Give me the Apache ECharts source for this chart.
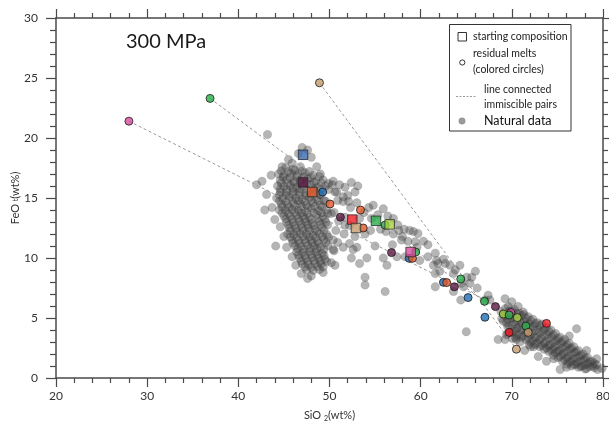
<!DOCTYPE html>
<html><head><meta charset="utf-8">
<script src="https://cdn.jsdelivr.net/npm/echarts@6/dist/echarts.min.js"></script>
<style>html,body{margin:0;padding:0;background:#fff}#c{width:609px;height:423px}</style>
</head><body><div id="c"></div>
<script>
// ---------------- DATA ----------------
const xRange = [20, 80];
const yRange = [0, 30];
const xStep = 10;
const yStep = 5;
const pressureLabel = '300 MPa';

// starting compositions (squares)
const startGroup = ['blue','purple','orange','red','tan','green','lime','magenta'];
const startSiO2  = [47.1, 47.1, 48.1, 52.5, 52.9, 55.1, 56.6, 58.9];
const startFeO   = [18.6, 16.3, 15.5, 13.2, 12.5, 13.1, 12.8, 10.5];

// residual melts (colored circles)
const meltGroup = ['magenta','green','tan','blue','orange','purple','orange','orange','green','purple',
  'blue','orange','green','blue','orange','purple','green','blue','green','blue',
  'purple','lime','magenta','green','lime','red','tan','green','tan','red'];
const meltSiO2 = [28.0, 36.9, 48.9, 49.25, 50.05, 51.2, 53.4, 53.7, 56.1, 56.8,
  58.75, 59.1, 59.45, 62.5, 62.85, 63.7, 64.4, 65.2, 67.0, 67.05,
  68.2, 69.07, 69.9, 69.7, 70.6, 69.7, 70.5, 71.55, 71.8, 73.8];
const meltFeO = [21.4, 23.3, 24.6, 15.5, 14.5, 13.4, 14.0, 12.5, 12.75, 10.45,
  9.97, 9.97, 10.5, 7.97, 7.95, 7.6, 8.25, 6.7, 6.39, 5.06,
  5.95, 5.33, 5.45, 5.25, 5.03, 3.8, 2.4, 4.33, 3.8, 4.55];

// immiscible pairs (dashed lines)
const pairSiO2 = [[28.0, 69.9], [36.9, 67.0], [48.9, 70.5]];
const pairFeO  = [[21.4, 5.45], [23.3, 6.39], [24.6, 2.4]];

// natural data
const naturalMafic = [
[45.2,17.55],[46.0,17.4],[46.8,17.6],
[44.4,17.0],[45.0,16.9],[45.8,17.05],[46.5,16.95],[47.3,17.1],[48.2,16.9],
[44.6,16.45],[45.3,16.55],[46.1,16.4],[46.8,16.5],[47.6,16.6],[48.5,16.4],[49.3,16.5],
[44.3,16.0],[45.0,15.95],[45.7,16.05],[46.4,15.9],[47.1,16.0],[47.9,16.1],[48.7,15.9],[49.6,16.0],[50.3,16.1],
[44.6,15.5],[45.3,15.45],[46.0,15.55],[46.7,15.5],[47.4,15.4],[48.3,15.6],[49.0,15.3],
[44.2,15.0],[44.9,14.95],[45.6,15.05],[46.3,15.0],[47.0,14.9],[47.8,15.05],[48.6,14.95],[49.4,14.8],
[44.7,14.5],[45.4,14.45],[46.1,14.55],[46.8,14.5],[47.5,14.4],[48.2,14.6],[49.0,14.4],
[44.5,14.0],[45.2,13.95],[45.9,14.05],[46.6,14.0],[47.3,13.9],[48.0,14.1],[48.8,13.95],[49.7,14.0],
[45.0,13.5],[45.7,13.45],[46.4,13.55],[47.1,13.5],[47.8,13.4],[48.6,13.6],[49.3,13.45],
[45.3,13.0],[46.0,12.95],[46.7,13.05],[47.4,13.0],[48.1,12.9],[48.9,13.05],[49.6,12.95],
[45.6,12.5],[46.3,12.45],[47.0,12.55],[47.7,12.5],[48.4,12.4],[49.2,12.55],
[45.4,12.0],[46.1,11.95],[46.8,12.05],[47.5,12.0],[48.2,11.9],[48.9,12.05],[49.7,11.95],
[45.9,11.5],[46.6,11.45],[47.3,11.55],[48.0,11.5],[48.7,11.4],[49.4,11.55],
[46.2,11.0],[46.9,10.95],[47.6,11.05],[48.3,11.0],[49.0,10.9],[49.8,11.05],
[46.4,10.5],[47.1,10.45],[47.8,10.55],[48.5,10.5],[49.2,10.4],
[46.7,10.0],[47.4,9.95],[48.1,10.05],[48.8,10.0],[49.5,9.9],
[47.0,9.5],[47.7,9.45],[48.4,9.55],[49.1,9.5],
[47.5,9.0],[48.2,8.95],[48.9,9.05],
[44.7,17.25],[45.5,17.2],[46.2,17.3],[47.0,17.25],[47.8,17.2],
[44.9,16.75],[45.7,16.7],[46.4,16.8],[47.2,16.75],[48.0,16.7],[48.9,16.8],
[44.7,16.25],[45.4,16.2],[46.1,16.3],[46.8,16.25],[47.5,16.2],[48.3,16.3],[49.1,16.25],[49.9,16.2],
[44.6,15.75],[45.3,15.7],[46.0,15.8],[46.7,15.75],[47.5,15.7],[48.3,15.8],[49.1,15.75],[49.9,15.7],
[44.5,15.25],[45.2,15.2],[46.0,15.3],[46.7,15.25],[47.4,15.2],[48.2,15.3],[49.0,15.25],
[44.5,14.75],[45.2,14.7],[45.9,14.8],[46.6,14.75],[47.3,14.7],[48.0,14.8],[48.8,14.75],[49.6,14.7],
[44.8,14.25],[45.5,14.2],[46.2,14.3],[46.9,14.25],[47.6,14.2],[48.4,14.3],[49.2,14.25],
[44.8,13.75],[45.5,13.7],[46.2,13.8],[46.9,13.75],[47.6,13.7],[48.3,13.8],[49.1,13.75],[49.8,13.7],
[45.2,13.25],[45.9,13.2],[46.6,13.3],[47.3,13.25],[48.0,13.2],[48.8,13.3],[49.5,13.25],
[45.5,12.75],[46.2,12.7],[46.9,12.8],[47.6,12.75],[48.3,12.7],[49.0,12.8],[49.8,12.75],
[45.7,12.25],[46.4,12.2],[47.1,12.3],[47.8,12.25],[48.6,12.2],[49.4,12.3],
[45.7,11.75],[46.4,11.7],[47.1,11.8],[47.8,11.75],[48.5,11.7],[49.2,11.8],[49.9,11.75],
[46.0,11.25],[46.7,11.2],[47.4,11.3],[48.1,11.25],[48.8,11.2],[49.6,11.3],
[46.5,10.75],[47.2,10.7],[47.9,10.8],[48.6,10.75],[49.4,10.7],
[46.6,10.25],[47.3,10.2],[48.0,10.3],[48.7,10.25],[49.4,10.2],
[46.9,9.75],[47.6,9.7],[48.3,9.8],[49.0,9.75],[49.7,9.7],
[47.3,9.25],[48.0,9.2],[48.7,9.3],[49.3,9.25],
[43.2,20.3],[47.0,19.2],[47.6,19.0],[46.6,18.7],[48.0,18.4],[45.5,18.2],[45.9,17.9],[44.8,17.6],
[43.6,16.9],[42.6,16.4],[42.0,16.1],[43.1,15.3],[42.9,14.0],[43.7,14.2],[44.0,13.2],[44.6,12.6],
[45.0,11.8],[45.3,10.9],[45.9,10.1],[46.3,9.4],[46.9,8.7],[48.0,8.5],[49.3,8.8],[50.2,9.6],
[50.5,10.6],[50.9,11.3],[50.7,12.3],[51.0,13.1],[50.5,13.8],[50.9,14.8],[49.0,17.0],[48.6,17.6],
[50.6,15.5],[44.1,11.0],[47.6,8.3]
];
const naturalIntermediate = [
[50.4,16.4],[51.1,16.1],[51.7,15.9],[52.4,16.3],[53.1,16.0],[52.0,15.2],[52.8,15.5],[51.5,14.7],
[52.3,14.2],[53.0,14.6],[53.8,13.8],[54.3,14.2],[54.8,14.4],[55.9,14.1],[54.6,13.3],[55.3,13.6],
[56.4,13.5],[57.0,13.3],[57.5,12.75],[57.6,12.3],[58.2,12.4],[58.8,12.3],[59.2,12.2],[59.7,12.05],
[57.9,11.5],[58.6,11.4],[59.4,11.35],[60.3,11.4],[60.8,11.1],[58.0,11.8],[57.0,12.0],[56.2,12.2],
[55.6,12.4],[54.5,12.3],[53.9,12.0],[52.8,11.8],[51.6,12.0],[52.2,12.7],[51.7,13.4],[53.3,13.3],
[50.8,15.5],[51.5,15.1],[52.1,14.7],[50.2,13.7],[51.7,12.75],[50.4,11.5],[52.2,11.2],[53.0,10.9],
[50.4,10.7],[51.5,10.9],[52.6,10.7],[52.4,10.0],[53.3,9.55],[54.1,10.0],[55.9,10.0],[56.3,9.4],
[57.4,10.1],[58.3,10.1],[59.6,10.9],[59.9,9.8],[60.8,10.1],[61.4,9.4],[61.75,9.8],[50.6,9.4],
[53.9,8.4],[53.9,7.75],[56.1,7.2],[61.6,7.6],[55.0,11.0],[56.9,11.1]
];
const naturalTransition = [
[61.6,10.4],[61.9,9.55],[62.7,9.55],[63.2,9.4],[64.3,9.4],[63.8,9.0],[61.6,8.7],[62.1,8.9],
[63.6,8.7],[65.05,8.4],[65.6,8.4],[64.5,7.9],[64.7,7.6],[65.4,7.9],[63.6,7.2],[67.4,6.9],
[67.05,6.5],[67.6,6.5],[64.4,6.5],[66.2,7.5],[65.0,3.86],[68.5,3.2],[69.25,6.6],[70.0,6.35],
[70.7,5.95],[71.25,5.5],[69.6,5.95],[62.5,9.9],[66.0,8.9]
];
const naturalFelsic = [
[68.8,5.55],[68.9,4.95],
[69.3,5.8],[69.2,5.2],[69.4,4.6],
[69.8,5.6],[69.9,5.0],[69.7,4.4],[69.8,3.8],
[70.3,5.7],[70.2,5.1],[70.4,4.5],[70.3,3.9],[70.4,3.35],
[70.8,5.4],[70.9,4.8],[70.7,4.2],[70.8,3.6],[70.9,3.0],
[71.3,5.3],[71.4,4.7],[71.2,4.1],[71.3,3.5],
[71.8,5.1],[71.9,4.5],[71.7,3.9],[71.8,3.3],[71.9,2.8],
[72.3,4.9],[72.4,4.3],[72.2,3.7],[72.3,3.1],[72.4,2.6],
[72.8,4.6],[72.9,4.0],[72.7,3.4],[72.8,2.9],
[73.3,4.5],[73.4,3.9],[73.2,3.3],[73.3,2.7],
[73.8,4.2],[73.9,3.6],[73.7,3.0],[73.8,2.5],
[74.3,4.0],[74.4,3.4],[74.2,2.8],[74.3,2.3],
[74.8,3.7],[74.9,3.1],[74.7,2.6],[74.8,2.1],
[75.3,3.4],[75.4,2.9],[75.2,2.3],[75.3,1.8],
[75.8,3.2],[75.9,2.6],[75.7,2.1],[75.8,1.5],
[76.3,2.9],[76.4,2.4],[76.2,1.8],[76.3,1.3],
[76.8,2.6],[76.9,2.1],[76.7,1.6],[76.8,1.1],
[77.3,2.3],[77.4,1.8],[77.2,1.3],[77.3,0.9],
[77.8,2.0],[77.9,1.5],[77.7,1.0],
[78.3,1.7],[78.4,1.2],[78.2,0.8],
[78.8,1.4],[78.9,1.0],
[79.3,1.1],[79.4,0.7],
[69.05,5.35],[69.05,4.75],
[69.55,5.5],[69.55,4.9],[69.55,4.3],[69.55,3.7],
[70.05,5.6],[70.05,5.0],[70.05,4.4],[70.05,3.8],[70.05,3.3],
[70.55,5.35],[70.55,4.75],[70.55,4.15],[70.55,3.55],
[71.05,5.2],[71.05,4.6],[71.05,4.0],[71.05,3.4],
[71.55,5.0],[71.55,4.4],[71.55,3.8],[71.55,3.2],
[72.05,4.8],[72.05,4.2],[72.05,3.6],[72.05,3.0],[72.05,2.6],
[72.55,4.55],[72.55,3.95],[72.55,3.35],[72.55,2.8],
[73.05,4.4],[73.05,3.8],[73.05,3.2],[73.05,2.6],
[73.55,4.1],[73.55,3.5],[73.55,2.9],[73.55,2.4],
[74.05,3.9],[74.05,3.3],[74.05,2.7],[74.05,2.2],
[74.55,3.6],[74.55,3.0],[74.55,2.4],[74.55,1.9],
[75.05,3.3],[75.05,2.75],[75.05,2.2],[75.05,1.7],
[75.55,3.05],[75.55,2.5],[75.55,1.95],[75.55,1.4],
[76.05,2.8],[76.05,2.2],[76.05,1.65],[76.05,1.15],
[76.55,2.5],[76.55,1.95],[76.55,1.4],[76.55,1.0],
[77.05,2.2],[77.05,1.65],[77.05,1.15],
[77.55,1.9],[77.55,1.4],[77.55,0.95],
[78.05,1.65],[78.05,1.1],[78.05,0.75],
[78.55,1.35],[78.55,0.95],
[79.05,1.2],[79.05,0.85],
[77.1,4.1],[76.3,3.5],[75.3,0.7],[79.3,1.6],[79.9,0.8],[72.9,1.8],[71.4,2.3],[73.8,1.4],
[69.25,3.2],[69.4,3.6],[70.5,3.2],[74.6,1.6],[78.2,2.3],[76.0,0.9]
];

// ---------------- STYLE ----------------
const groupColor = {blue:'#1f6db4', purple:'#5c1745', orange:'#e2582a', red:'#ec1c24',
  tan:'#c49b6e', green:'#2aae4a', lime:'#a6cf3f', magenta:'#d84c9f'};
const squareColor = Object.assign({}, groupColor, {blue:'#3a68b2'});
const FONT = 'Lato, "Open Sans", sans-serif';
const axisColor = '#4a4a4a';

const natural = naturalMafic.concat(naturalIntermediate, naturalTransition, naturalFelsic);
const meltData = meltSiO2.map((x, i) => ({value: [x, meltFeO[i]], itemStyle: {color: groupColor[meltGroup[i]]}}));
const startData = startSiO2.map((x, i) => ({value: [x, startFeO[i]], itemStyle: {color: squareColor[startGroup[i]]}}));

const lineSeries = pairSiO2.map((xs, i) => ({
  type: 'line', data: xs.map((x, j) => [x, pairFeO[i][j]]), symbol: 'none', silent: true,
  lineStyle: {color: '#9a9a9a', width: 1, type: [3, 2.5]}, z: 3, animation: false
}));

function mkAxis(extra) {
  return Object.assign({
    type: 'value', splitLine: {show: false}, minorSplitLine: {show: false},
    axisLine: {show: true, onZero: false, lineStyle: {color: axisColor, width: 1.5}},
    axisTick: {show: true, length: 9, lineStyle: {color: axisColor, width: 1.2}},
    minorTick: {show: true, splitNumber: 5, length: 5, lineStyle: {color: axisColor, width: 1.2}},
    axisLabel: {show: true, color: '#333', fontSize: 12, fontFamily: FONT}
  }, extra);
}

const chart = echarts.init(document.getElementById('c'), null, {renderer: 'canvas'});
chart.setOption({
  animation: false,
  grid: {left: 56, top: 18, right: 6, bottom: 45, containLabel: false, outerBoundsMode: 'none'},
  xAxis: [
    mkAxis({min: xRange[0], max: xRange[1], interval: xStep, position: 'bottom',
      axisLabel: {show: true, color: '#333', fontSize: 12, fontFamily: FONT, margin: 12},
      name: 'SiO {sub|2}(wt%)', nameLocation: 'middle', nameGap: 31, nameMoveOverlap: false,
      nameTextStyle: {color: '#333', fontSize: 11, fontFamily: FONT,
        rich: {sub: {fontSize: 7, verticalAlign: 'bottom', padding: [6, 0, 0, 0], fontFamily: FONT, color: '#333'}}}}),
    mkAxis({min: xRange[0], max: xRange[1], interval: xStep, position: 'top', axisLabel: {show: false}})
  ],
  yAxis: [
    mkAxis({min: yRange[0], max: yRange[1], interval: yStep, position: 'left',
      axisLabel: {show: true, color: '#333', fontSize: 12, fontFamily: FONT, margin: 18},
      axisTick: {show: true, length: 10, lineStyle: {color: axisColor, width: 1.2}},
      minorTick: {show: true, splitNumber: 5, length: 6, lineStyle: {color: axisColor, width: 1.2}},
      name: 'FeO {sub|t}(wt%)', nameLocation: 'middle', nameGap: 35, nameRotate: 90, nameMoveOverlap: false,
      nameTextStyle: {color: '#333', fontSize: 11, fontFamily: FONT,
        rich: {sub: {fontSize: 7, fontFamily: FONT, color: '#333'}}}}),
    mkAxis({min: yRange[0], max: yRange[1], interval: yStep, position: 'right', axisLabel: {show: false}})
  ],
  series: [
    {type: 'scatter', data: natural, symbol: 'circle', symbolSize: 8.5, z: 2, silent: true,
      itemStyle: {color: 'rgba(62,62,62,0.48)', borderColor: 'rgba(60,60,60,0.25)', borderWidth: 0.6}},
    ...lineSeries,
    {type: 'scatter', data: meltData, symbol: 'circle', symbolSize: 8, z: 4, silent: true,
      itemStyle: {borderColor: '#1a1a1a', borderWidth: 1}},
    {type: 'scatter', data: startData, symbol: 'rect', symbolSize: 9.5, z: 5, silent: true,
      itemStyle: {borderColor: '#2a2a2a', borderWidth: 1}}
  ],
  graphic: [
    {type: 'text', left: 126, top: 32, z: 10,
      style: {text: pressureLabel, font: '20px ' + FONT, fill: '#1a1a1a'}},
    {type: 'rect', shape: {x: 449.5, y: 24.5, width: 121.5, height: 106.5}, z: 10,
      style: {fill: '#fff', stroke: '#333', lineWidth: 1}},
    {type: 'rect', shape: {x: 458, y: 32.5, width: 8.5, height: 8.5}, z: 11,
      style: {fill: '#fff', stroke: '#333', lineWidth: 1}},
    {type: 'text', x: 473, y: 37, z: 11,
      style: {text: 'starting composition', font: '10.5px ' + FONT, fill: '#222', textVerticalAlign: 'middle'}},
    {type: 'circle', shape: {cx: 462.3, cy: 62.5, r: 2.6}, z: 11,
      style: {fill: '#fff', stroke: '#333', lineWidth: 1}},
    {type: 'text', x: 473, y: 53.5, z: 11,
      style: {text: 'residual melts', font: '10.5px ' + FONT, fill: '#222', textVerticalAlign: 'middle'}},
    {type: 'text', x: 473, y: 70, z: 11,
      style: {text: '(colored circles)', font: '10.5px ' + FONT, fill: '#222', textVerticalAlign: 'middle'}},
    {type: 'line', shape: {x1: 456, y1: 96.5, x2: 477, y2: 96.5}, z: 11,
      style: {stroke: '#9a9a9a', lineWidth: 1, lineDash: [2, 1.5]}},
    {type: 'text', x: 484, y: 89.5, z: 11,
      style: {text: 'line connected', font: '10.5px ' + FONT, fill: '#222', textVerticalAlign: 'middle'}},
    {type: 'text', x: 484, y: 105, z: 11,
      style: {text: 'immiscible pairs', font: '10.5px ' + FONT, fill: '#222', textVerticalAlign: 'middle'}},
    {type: 'circle', shape: {cx: 462, cy: 121, r: 3.2}, z: 11,
      style: {fill: '#9a9a9a', stroke: '#8a8a8a', lineWidth: 0.5}},
    {type: 'text', x: 484, y: 121, z: 11,
      style: {text: 'Natural data', font: '12.5px ' + FONT, fill: '#111', textVerticalAlign: 'middle'}}
  ]
});
</script>
</body></html>
